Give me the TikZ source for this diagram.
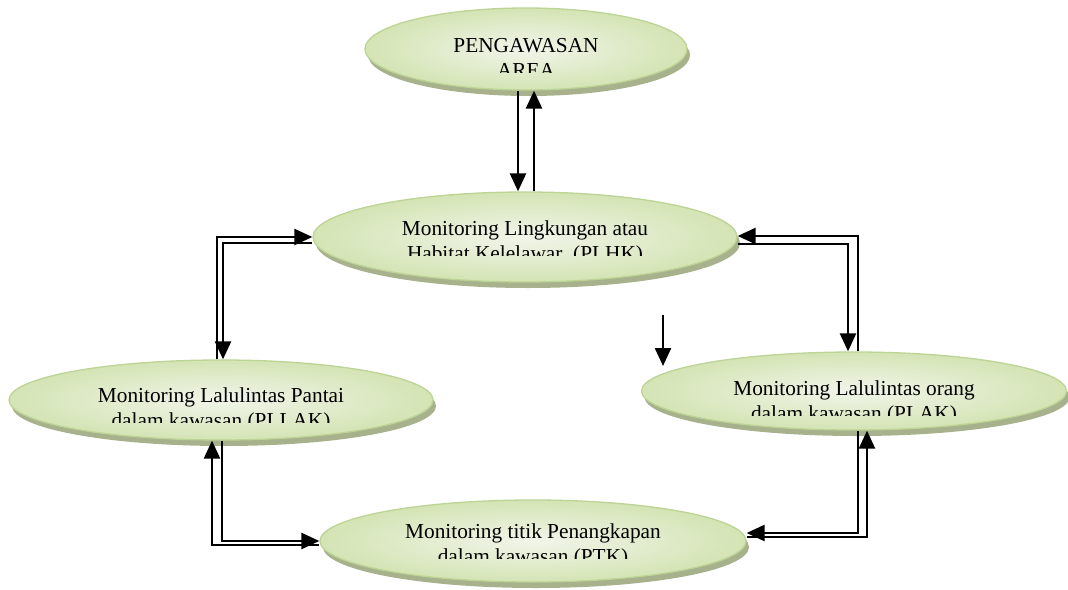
\documentclass[tikz,border=0pt]{standalone}
\usepackage{fontspec}
\setmainfont{Liberation Serif}
\usetikzlibrary{arrows.meta,shapes.geometric,shadows,calc}
\definecolor{ovalline}{HTML}{BCD495}
\definecolor{ovallight}{HTML}{F1F5EA}
\definecolor{ovaldark}{HTML}{D4E4B4}
\definecolor{ovalshadow}{HTML}{A7B18C}

\begin{document}
\begin{tikzpicture}[x=1pt, y=-1pt,
    every node/.style={font=\fontsize{21.3}{25}\selectfont},
    oval/.style={ellipse, draw=ovalline, line width=1.3pt, inner color=ovallight,
      outer color=ovaldark, inner sep=0pt,
      drop shadow={shadow xshift=3pt, shadow yshift=-6pt, fill=ovalshadow, opacity=1}},
    flow/.style={line width=2.5pt, -{Triangle[length=18pt,width=16pt]}}]
    \path[use as bounding box, fill=white] (0,0) rectangle (1068,589);
    % ovals
    \node[oval, minimum width=322pt, minimum height=82pt] (pengawasan) at (526,49) {};
    \node[oval, minimum width=424pt, minimum height=90pt] (plhk) at (525,237) {};
    \node[oval, minimum width=424pt, minimum height=80pt] (pllak) at (221,400) {};
    \node[oval, minimum width=425pt, minimum height=78pt] (plak) at (854,391) {};
    \node[oval, minimum width=426pt, minimum height=82pt] (ptk) at (533,541) {};
    % texts, second line cut off
    \foreach \n/\d/\a/\b in {
      pengawasan/3/PENGAWASAN/AREA,
      plhk/-2/{Monitoring Lingkungan atau}/{Habitat Kelelawar\ \ (PLHK)},
      pllak/2/{Monitoring Lalulintas Pantai}/{dalam kawasan (PLLAK)},
      plak/4/{Monitoring Lalulintas orang}/{dalam kawasan (PLAK)},
      ptk/-3/{Monitoring titik Penangkapan}/{dalam kawasan (PTK)}}{
      \begin{scope}
        \clip ($(\n.center)+(-230,-40)$) rectangle ($(\n.center)+(230,\d+20)$);
        \node[anchor=base, align=center] (\n-text) at ($(\n.center)+(0,\d+25)$) {\a\\\b};
      \end{scope}
    }
    % arrows
    \draw[flow] ([xshift=-8pt]pengawasan.south) -- ([xshift=-8pt]pengawasan.south |- plhk.north);
    \draw[flow] ([xshift=8pt]pengawasan.south |- plhk.north) -- ([xshift=8pt]pengawasan.south);
    \draw[flow] ([xshift=-4pt]pllak.north) |- (plhk.west);
    \draw[flow] ([yshift=-6pt]plhk.west) -| ([xshift=2pt]pllak.north);
    \draw[flow] ([xshift=4pt]plak.north) |- ([yshift=1pt]plhk.east);
    \draw[flow] ([yshift=-7pt]plhk.east) -| ([xshift=-6pt]plak.north);
    \draw[flow] ([xshift=1pt]pllak.south) |- (ptk.west);
    \draw[flow] ([yshift=-4pt]ptk.west) -| ([xshift=-9pt]pllak.south);
    \draw[flow] ([xshift=4pt]plak.south) |- ([yshift=8pt]ptk.east);
    \draw[flow] ([yshift=4pt]ptk.east) -| ([xshift=13pt]plak.south);
    \coordinate (straytop) at (663,315);
    \coordinate (straytip) at (663,366);
    \draw[flow] (straytop) -- (straytip);
\end{tikzpicture}
\end{document}
